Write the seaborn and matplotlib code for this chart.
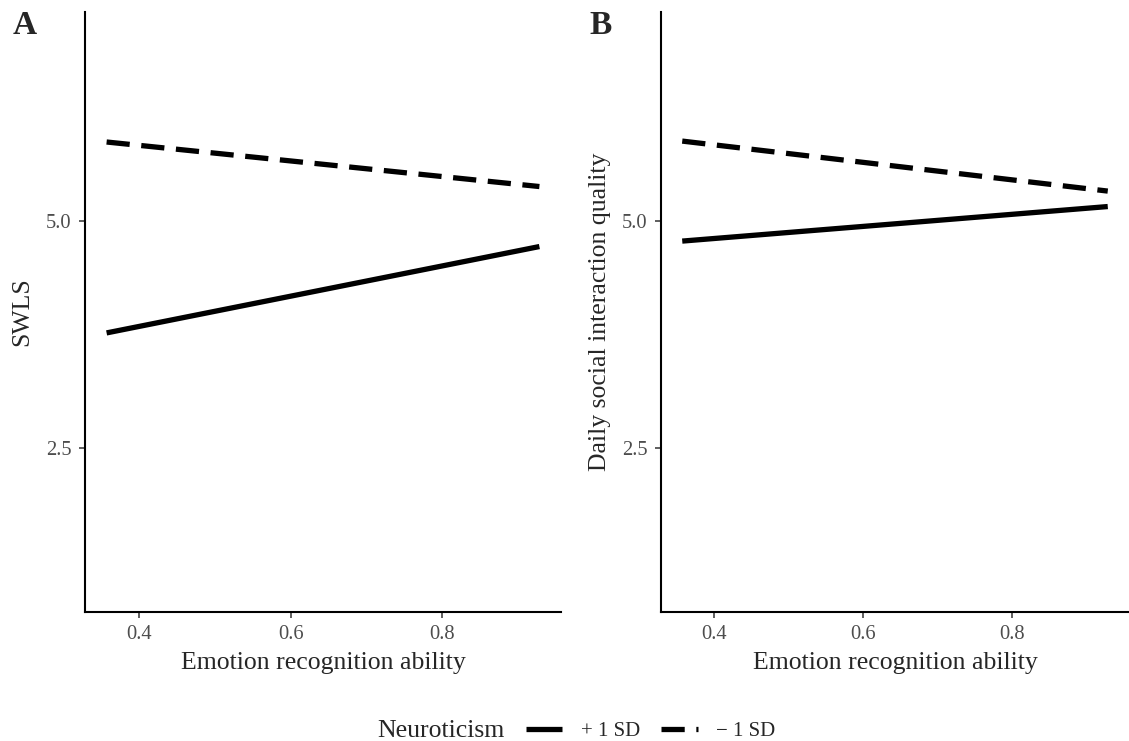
import matplotlib
matplotlib.use("Agg")
import matplotlib.pyplot as plt
import seaborn as sns
import pandas as pd

# values
ability = [0.357, 0.928]
levels = ["+ 1 SD", "\u2212 1 SD"]
swls_high = [3.77, 4.72]
swls_low = [5.87, 5.38]
quality_high = [4.78, 5.16]
quality_low = [5.88, 5.33]

x_ticks = [0.4, 0.6, 0.8]
y_ticks = [2.5, 5.0]

sns.set_theme(style="ticks")
plt.rcParams["font.family"] = ["Liberation Serif", "DejaVu Serif"]
plt.rcParams["axes.linewidth"] = 1.5
plt.rcParams["xtick.major.width"] = 1.1
plt.rcParams["ytick.major.width"] = 1.1
plt.rcParams["xtick.color"] = "#333333"
plt.rcParams["ytick.color"] = "#333333"
plt.rcParams["lines.solid_capstyle"] = "butt"
plt.rcParams["lines.dash_capstyle"] = "butt"


def make_df(high, low):
    return pd.DataFrame({
        "ability": ability + ability,
        "value": high + low,
        "Neuroticism": [levels[0]] * 2 + [levels[1]] * 2,
    })


df_a = make_df(swls_high, swls_low)
df_b = make_df(quality_high, quality_low)

fig = plt.figure(figsize=(11.29, 7.41), dpi=100)
ax_a = fig.add_axes([85 / 1129, 129 / 741, 476 / 1129, 600 / 741])
ax_b = fig.add_axes([661 / 1129, 129 / 741, 468 / 1129, 600 / 741])

dash_map = {levels[0]: "", levels[1]: (4.4, 2.2)}
lw = 3.8

for ax, df, ylab in [(ax_a, df_a, "SWLS"), (ax_b, df_b, "Daily social interaction quality")]:
    sns.lineplot(data=df, x="ability", y="value", style="Neuroticism",
                 dashes=dash_map, color="black", linewidth=lw, ax=ax,
                 legend=(ax is ax_a))
    ax.set_xlim(0.3285, 0.9565)
    ax.set_ylim(0.7, 7.3)
    ax.set_xticks(x_ticks)
    ax.set_xticklabels([f"{t:.1f}" for t in x_ticks])
    ax.set_yticks(y_ticks)
    ax.set_yticklabels([f"{t:.1f}" for t in y_ticks])
    ax.tick_params(labelsize=14.8, labelcolor="#4D4D4D", length=4.5, pad=5)
    sns.despine(ax=ax)
    for s in ["left", "bottom"]:
        ax.spines[s].set_color("black")
    ax.set_xlabel("Emotion recognition ability", fontsize=18.5)
    ax.set_ylabel(ylab, fontsize=18.5)
    ax.xaxis.label.set_va("center")
    ax.yaxis.label.set_va("center")

ax_a.xaxis.set_label_coords(0.5, -51 / 600)
ax_b.xaxis.set_label_coords(0.5, -51 / 600)
ax_a.yaxis.set_label_coords(-63 / 476, 0.5)
ax_b.yaxis.set_label_coords(-61 / 468, 0.5)

handles, labels = ax_a.get_legend_handles_labels()
ax_a.get_legend().remove()
keep = [(h, l) for h, l in zip(handles, labels) if l in levels]
for h, _ in keep:
    h.set_linewidth(lw)
    h.set_color("black")
    h.set_solid_capstyle("butt")
    h.set_dash_capstyle("butt")

fig.text(13 / 1129, 1 - 10 / 741, "A", fontsize=24, fontweight="bold", va="top", ha="left")
fig.text(589 / 1129, 1 - 10 / 741, "B", fontsize=24, fontweight="bold", va="top", ha="left")

fig.text(377 / 1129, 10 / 741, "Neuroticism", fontsize=18.5, va="center", ha="left")
fig.legend([h for h, _ in keep], [l for _, l in keep],
           loc="center left", bbox_to_anchor=(526 / 1129, 10 / 741),
           ncol=2, frameon=False, fontsize=15, handlelength=1.75,
           handletextpad=0.9, columnspacing=1.0, borderpad=0, borderaxespad=0)

fig.savefig("out.png", dpi=100, facecolor="white")
